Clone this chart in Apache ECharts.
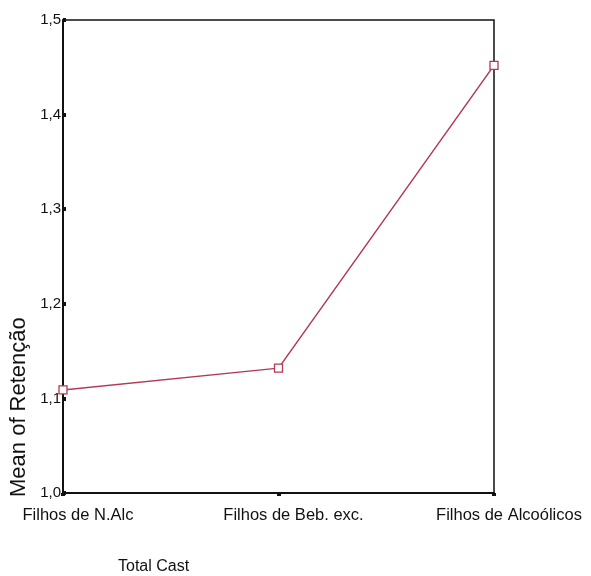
<!DOCTYPE html>
<html>
<head>
<meta charset="utf-8">
<script src="https://cdn.jsdelivr.net/npm/echarts@6/dist/echarts.min.js"></script>
<style>html,body{margin:0;padding:0;background:#fff;}#c{width:591px;height:576px;}</style>
</head>
<body>
<div id="c"></div>
<script>
var categories = ['Filhos de N.Alc', 'Filhos de Beb. exc.', 'Filhos de Alcoólicos'];
var meanValues = [1.109, 1.132, 1.452];
var yTickLabels = ['1,0', '1,1', '1,2', '1,3', '1,4', '1,5'];
var yAxisTitle = 'Mean of Retenção';
var xAxisTitle = 'Total Cast';

var chart = echarts.init(document.getElementById('c'), null, {renderer: 'canvas'});
chart.setOption({
  animation: false,
  backgroundColor: '#ffffff',
  grid: {left: 63, right: 97, top: 20, bottom: 83, show: true, borderColor: '#111', borderWidth: 1.5, backgroundColor: 'transparent'},
  xAxis: {
    type: 'category',
    data: categories,
    boundaryGap: false,
    axisLine: {lineStyle: {color: '#111', width: 2}},
    axisTick: {show: true, length: 3, inside: false, lineStyle: {color: '#111', width: 4}},
    axisLabel: {color: '#111', fontFamily: 'Liberation Sans, Arial, sans-serif', fontSize: 16.5, margin: 14, padding: [0, 0, 0, 30], interval: 0},
    splitLine: {show: false}
  },
  yAxis: {
    type: 'value',
    min: 1.0,
    max: 1.5,
    interval: 0.1,
    axisLine: {show: true, lineStyle: {color: '#111', width: 2}},
    axisTick: {show: true, inside: true, length: 3, lineStyle: {color: '#111', width: 4}},
    axisLabel: {color: '#111', fontFamily: 'Liberation Sans, Arial, sans-serif', fontSize: 15, margin: 2,
      formatter: function (v) { var i = Math.round((v - 1.0) * 10); return yTickLabels[i] || ''; }},
    splitLine: {show: false}
  },
  series: [{
    type: 'line',
    data: meanValues,
    symbol: 'rect',
    symbolSize: 8,
    lineStyle: {color: '#b23a55', width: 1.5},
    itemStyle: {color: '#ffffff', borderColor: '#b23a55', borderWidth: 1.3}
  }],
  graphic: [
    {type: 'text', rotation: Math.PI / 2, x: 8, y: 497, style: {text: yAxisTitle, fill: '#111', font: '22px "Liberation Sans", Arial, sans-serif'}},
    {type: 'text', left: 118, top: 559, style: {text: xAxisTitle, fill: '#111', font: '16px "Liberation Sans", Arial, sans-serif'}}
  ]
});
</script>
</body>
</html>
